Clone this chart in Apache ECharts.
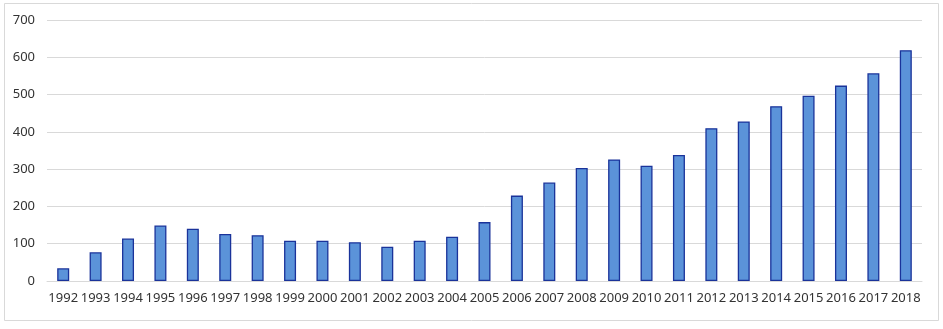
<!DOCTYPE html>
<html><head><meta charset="utf-8">
<script src="https://cdn.jsdelivr.net/npm/echarts@6/dist/echarts.min.js"></script>
<style>html,body{margin:0;padding:0;background:#fff}#c{width:943px;height:329px}</style>
</head><body><div id="c"></div>
<script>
const years = ['1992','1993','1994','1995','1996','1997','1998','1999','2000','2001','2002','2003','2004','2005','2006','2007','2008','2009','2010','2011','2012','2013','2014','2015','2016','2017','2018'];
const values = [34,77,114,149,140,126,123,108,108,104,92,108,119,158,229,264,303,326,309,338,410,428,469,497,524,557,619];
const yTicks = [0,100,200,300,400,500,600,700];

const chart = echarts.init(document.getElementById('c'), null, {renderer:'canvas'});
chart.setOption({
  animation:false,
  backgroundColor:'#fff',
  graphic:[{type:'rect',shape:{x:4.5,y:3.5,width:934,height:317},style:{fill:'none',stroke:'#d9d9d9',lineWidth:1}}],
  grid:{left:47,right:21,top:20,bottom:48},
  xAxis:{type:'category',data:years,
    axisLine:{show:true,lineStyle:{color:'#d9d9d9'}},axisTick:{show:false},
    axisLabel:{color:'#333',fontFamily:'Noto Sans',fontSize:13,margin:11,interval:0}},
  yAxis:{type:'value',min:yTicks[0],max:yTicks[yTicks.length-1],interval:100,
    axisLine:{show:false},axisTick:{show:false},
    splitLine:{lineStyle:{color:'#d9d9d9'}},
    axisLabel:{color:'#333',fontFamily:'Noto Sans',fontSize:13,margin:12}},
  series:[{type:'bar',data:values,barWidth:12,
    itemStyle:{color:'#5b93d9',borderColor:'#1a339a',borderWidth:1.3}}]
});
</script></body></html>
